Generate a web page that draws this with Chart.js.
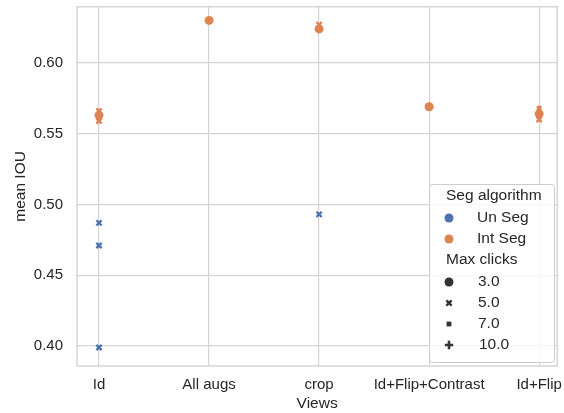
<!DOCTYPE html>
<html><head><meta charset="utf-8">
<script src="https://cdn.jsdelivr.net/npm/chart.js@4/dist/chart.umd.min.js"></script>
<style>html,body{margin:0;padding:0;background:#fff}#wrap{width:564px;height:413px;position:relative}</style>
</head><body><div id="wrap"><canvas id="c" width="564" height="413"></canvas></div>
<script>
const categories = ['Id', 'All augs', 'crop', 'Id+Flip+Contrast', 'Id+Flip'];
const yTicks = [0.40, 0.45, 0.50, 0.55, 0.60];
const clickLevels = [3.0, 5.0, 7.0, 10.0];
const seriesNames = ['Un Seg', 'Int Seg'];
// Un Seg points
const unSegView = ['Id', 'Id', 'Id', 'crop'];
const unSegClicks = [5.0, 5.0, 5.0, 5.0];
const unSegIou = [0.487, 0.471, 0.399, 0.493];
// Int Seg points
const intSegView = ['Id', 'Id', 'Id', 'Id', 'All augs', 'crop', 'crop', 'Id+Flip+Contrast', 'Id+Flip+Contrast', 'Id+Flip', 'Id+Flip', 'Id+Flip'];
const intSegClicks = [5.0, 3.0, 7.0, 5.0, 3.0, 5.0, 3.0, 3.0, 10.0, 7.0, 3.0, 5.0];
const intSegIou = [0.566, 0.563, 0.561, 0.559, 0.630, 0.627, 0.624, 0.569, 0.569, 0.568, 0.564, 0.560];

const colors = {'Un Seg': '#4c72b0', 'Int Seg': '#dd8452'};
const styles = {3: 'circle', 5: 'crossRot', 7: 'rect', 10: 'cross'};
const radii = {3: 4.5, 5: 3.7, 7: 3.4, 10: 4.2};
const bws = {3: 0, 5: 2.4, 7: 0, 10: 2.6};

function build(name, views, clicks, vals) {
  const out = [];
  clickLevels.forEach(cl => {
    const pts = [];
    views.forEach((v, i) => { if (clicks[i] === cl) pts.push({x: categories.indexOf(v), y: vals[i]}); });
    if (pts.length) out.push({
      label: name + ' ' + cl, data: pts, pointStyle: styles[cl], pointRadius: radii[cl],
      backgroundColor: colors[name], borderColor: colors[name], pointBorderWidth: bws[cl],
      pointHoverRadius: radii[cl]
    });
  });
  return out;
}
const datasets = [...build('Un Seg', unSegView, unSegClicks, unSegIou), ...build('Int Seg', intSegView, intSegClicks, intSegIou)];

const FONT = "'Liberation Sans', Arial, sans-serif";
const legendPlugin = {
  id: 'sbLegend',
  afterDraw(chart) {
    const ctx = chart.ctx;
    const x0 = 429, y0 = 184, w = 125, h = 178;
    ctx.save();
    ctx.fillStyle = 'rgba(255,255,255,0.8)';
    ctx.strokeStyle = '#cccccc';
    ctx.lineWidth = 1;
    ctx.beginPath();
    if (ctx.roundRect) ctx.roundRect(x0 + 0.5, y0 + 0.5, w, h, 3); else ctx.rect(x0 + 0.5, y0 + 0.5, w, h);
    ctx.fill(); ctx.stroke();
    ctx.font = '15.5px ' + FONT;
    ctx.fillStyle = '#262626';
    ctx.textBaseline = 'middle';
    ctx.textAlign = 'left';
    ctx.fillText('Seg algorithm', 446, 196);
    const rows = [['Un Seg', 218], ['Int Seg', 239]];
    rows.forEach(([n, y]) => {
      ctx.fillStyle = colors[n]; ctx.beginPath(); ctx.arc(449, y, 4.5, 0, Math.PI * 2); ctx.fill();
      ctx.fillStyle = '#262626';
      ctx.fillText(n, 477, y);
    });
    ctx.fillText('Max clicks', 446, 260);
    const cy = [282, 303, 324, 345];
    clickLevels.forEach((cl, i) => {
      ctx.fillStyle = '#333333'; ctx.strokeStyle = '#333333';
      ctx.lineWidth = bws[cl];
      Chart.helpers.drawPoint(ctx, {pointStyle: styles[cl], radius: radii[cl], borderWidth: bws[cl]}, 449, cy[i]);
      ctx.fillStyle = '#262626';
      ctx.fillText(cl.toFixed(1), cl >= 10 ? 479 : 478, cy[i]);
    });
    ctx.restore();
  }
};
const framePlugin = {
  id: 'frame',
  beforeDatasetsDraw(chart) {
    const a = chart.chartArea, ctx = chart.ctx;
    ctx.save(); ctx.strokeStyle = '#cccccc'; ctx.lineWidth = 1.2;
    ctx.strokeRect(a.left, a.top, a.right - a.left, a.bottom - a.top);
    ctx.restore();
  }
};

new Chart(document.getElementById('c'), {
  type: 'scatter',
  data: {datasets},
  plugins: [framePlugin, legendPlugin],
  options: {
    responsive: false, animation: false,
    layout: {padding: {top: 3, right: 0, left: 0, bottom: 0}},
    plugins: {legend: {display: false}, tooltip: {enabled: false}},
    scales: {
      x: {
        type: 'linear', min: -0.2, max: 4.164,
        afterFit: s => { s.height = 47; s.paddingLeft = 0; s.paddingRight = 0; s.paddingTop = 0; s.paddingBottom = 0; },
        afterBuildTicks: s => { s.ticks = categories.map((c, i) => ({value: i})); },
        ticks: {callback: v => categories[v], color: '#262626', font: {family: FONT, size: 15}, padding: 10, maxRotation: 0, autoSkip: false},
        grid: {color: '#d5d5d5', lineWidth: 1.2, drawTicks: false},
        border: {display: false},
        title: {display: true, text: 'Views', color: '#262626', font: {family: FONT, size: 15.5}, padding: {top: 0, bottom: 0}}
      },
      y: {
        min: 0.3859, max: 0.6396,
        afterFit: s => { s.width = 77; s.paddingTop = 0; s.paddingBottom = 0; s.paddingLeft = 0; s.paddingRight = 0; },
        afterBuildTicks: s => { s.ticks = yTicks.map(v => ({value: v})); },
        ticks: {callback: v => v.toFixed(2), color: '#262626', font: {family: FONT, size: 15}, padding: 14},
        grid: {color: '#d5d5d5', lineWidth: 1.2, drawTicks: false},
        border: {display: false},
        title: {display: true, text: 'mean IOU', color: '#262626', font: {family: FONT, size: 15.5}, padding: {top: 11, bottom: 4}}
      }
    }
  }
});
</script></body></html>
